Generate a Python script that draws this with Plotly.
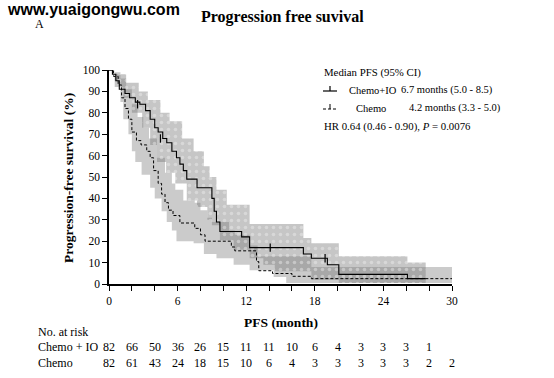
import plotly.graph_objects as go

# ---------------- data ----------------
# Kaplan-Meier curves (time in months, progression-free %)
io_time = [0, 0.3, 0.6, 0.9, 1.4, 1.8, 2.3, 2.7, 3.2, 3.6, 4.0, 4.3, 4.7, 5.05, 5.5, 5.9, 6.2, 6.5, 6.8, 7.7,
           9.0, 9.2, 9.4, 9.7, 11.6, 12.3, 17.0, 17.7, 19.1, 20.1, 26.1, 27.7]
io_surv = [100, 98, 95, 91, 89, 87, 85, 84, 81, 77, 73, 71, 68, 66, 62, 59, 56, 53, 49, 45,
           40, 34, 29, 24.5, 22, 17, 14, 12, 9, 4.5, 2.5, 2.5]

ch_time = [0, 0.4, 0.8, 1.1, 1.4, 1.7, 2.0, 2.4, 2.8, 3.3, 3.6, 3.9, 4.3, 4.6, 4.9, 5.2, 5.6, 6.2, 7.5, 8.0,
           8.4, 10.7, 11.0, 12.9, 13.1, 14.3, 16.0, 17.7, 30]
ch_surv = [100, 97, 93, 87, 82, 77, 71, 67, 65, 62, 59, 53, 47, 42, 38, 34.5, 32, 28.5, 26, 23,
           20, 17.3, 15.5, 10.5, 6.2, 4.9, 3.6, 2.5, 2.5]

# 95% confidence bands
io_up_t = [0, 0.5, 1.5, 2.6, 3.4, 4.5, 5.3, 6.4, 7.4, 8.3, 8.8, 9.4, 10.3, 12.3, 17.0, 17.7, 20.1, 26.1, 27.7]
io_up = [100, 98, 94, 90, 86, 80, 76, 68, 62, 55, 50, 44, 37, 28, 21.5, 19, 13, 10, 10]
io_lo_t = [0, 0.5, 1.25, 2.0, 2.9, 3.6, 4.2, 5.0, 5.8, 6.8, 7.7, 8.6, 9.0, 9.7, 10.9, 12.3, 13.5, 14.5, 17.7, 20.1, 27.7]
io_lo = [100, 92, 87, 80, 73, 65, 57, 52, 47, 39, 36, 30, 27.5, 20.5, 16, 12, 9, 6, 2, 0.5, 0.5]

ch_up_t = [0, 0.5, 1.0, 1.5, 2.0, 2.5, 3.0, 3.5, 4.2, 4.9, 5.5, 5.8, 6.5, 7.5, 8.0, 8.6, 9.0, 10.5, 11.0, 12.3, 13.0, 17.7, 30]
ch_up = [100, 99, 96, 91, 84, 78, 73, 68, 59, 52, 47, 44, 39, 38, 34.5, 31, 29, 25, 23, 18, 13, 8, 8]
ch_lo_t = [0, 0.5, 1.0, 1.25, 1.7, 2.0, 2.3, 2.85, 3.6, 4.0, 4.6, 5.05, 5.5, 5.9, 7.4, 8.3, 9.4, 10.9, 12.3, 14.4, 15.5, 30]
ch_lo = [100, 95, 85, 77, 70, 62, 57, 51, 45, 40, 34, 29, 25, 20, 19, 14, 12, 9, 6.4, 3.3, 0.5, 0.5]

# censor marks
io_cens_t = [2.5, 4.5, 14.1, 18.9]
io_cens_s = [84, 68, 17, 12]

# number at risk
risk_times = [0, 2, 4, 6, 8, 10, 12, 14, 16, 18, 20, 22, 24, 26, 28, 30]
risk_io = [82, 66, 50, 36, 26, 15, 11, 11, 10, 6, 4, 3, 3, 3, 1]
risk_ch = [82, 61, 43, 24, 18, 15, 10, 6, 4, 3, 3, 3, 3, 3, 2, 2]

x_ticks = list(range(0, 31, 2))
x_labels = [str(v) if v % 6 == 0 else "" for v in x_ticks]
y_ticks = list(range(0, 101, 10))

SERIF = "Liberation Serif"


def steps(t, v):
    xs, ys = [t[0]], [v[0]]
    for i in range(1, len(t)):
        xs += [t[i], t[i]]
        ys += [v[i - 1], v[i]]
    return xs, ys


def band(ut, uv, lt, lv):
    ux, uy = steps(ut, uv)
    lx, ly = steps(lt, lv)
    return ux + lx[::-1], uy + ly[::-1]


fig = go.Figure()

bx, by = band(ch_up_t, ch_up, ch_lo_t, ch_lo)
fig.add_trace(go.Scatter(x=bx, y=by, fill="toself", mode="lines", line=dict(width=0),
                         fillcolor="rgba(140,140,140,0.45)", hoverinfo="skip", showlegend=False))

bx, by = band(io_up_t, io_up, io_lo_t, io_lo)
fig.add_trace(go.Scatter(x=bx, y=by, fill="toself", mode="lines", line=dict(width=0),
                         fillpattern=dict(shape=".", bgcolor="rgba(120,120,120,0.42)",
                                          fgcolor="rgba(240,240,240,0.9)", size=7, solidity=0.2),
                         hoverinfo="skip", showlegend=False))

fig.add_trace(go.Scatter(x=ch_time, y=ch_surv, mode="lines", line=dict(color="black", width=1, dash="3px,2px", shape="hv"),
                         showlegend=False, cliponaxis=False, hoverinfo="skip"))
fig.add_trace(go.Scatter(x=io_time, y=io_surv, mode="lines", line=dict(color="black", width=1.1, shape="hv"),
                         showlegend=False, cliponaxis=False, hoverinfo="skip"))
fig.add_trace(go.Scatter(x=io_cens_t, y=io_cens_s, mode="markers",
                         marker=dict(symbol="line-ns", size=6, line=dict(color="black", width=1.2)),
                         showlegend=False, hoverinfo="skip"))

fig.update_xaxes(range=[0, 30], tickvals=x_ticks, ticktext=x_labels, ticks="outside", ticklen=5, tickwidth=1.3,
                 tickcolor="black", showline=True, linecolor="black", linewidth=1.5, showgrid=False, zeroline=False,
                 tickfont=dict(family=SERIF, size=11.5, color="black"))
fig.update_yaxes(range=[0, 100], tickvals=y_ticks, ticks="outside", ticklen=5, tickwidth=1.3,
                 tickcolor="black", showline=True, linecolor="black", linewidth=1.5, showgrid=False, zeroline=False,
                 tickfont=dict(family=SERIF, size=11.5, color="black"))

L, R, T, B = 109, 102, 70, 94
PW, PH = 554 - L - R, 378 - T - B


def px(x):
    return (x - L) / PW


def py(y):
    return (378 - B - y) / PH


ann = []


def text(x, y, s, size=11, xanchor="left", font=SERIF, xref="paper", angle=0):
    ann.append(dict(x=x, y=y, xref=xref, yref="paper", text=s, showarrow=False, xanchor=xanchor,
                    yanchor="middle", textangle=angle, font=dict(family=font, size=size, color="black")))


text(px(5), py(10), "<b>www.yuaigongwu.com</b>", size=16, font="Liberation Sans")
text(px(33), py(24), "A", size=12)
text(px(282), py(17), "<b>Progression free suvival</b>", size=16, xanchor="center")
text(px(68), py(178), "<b>Progression-free survival (%)</b>", size=13.5, xanchor="center", angle=-90)
text(px(281), py(322), "<b>PFS (month)</b>", size=13.5, xanchor="center")

# legend block
text(px(322), py(73), "Median PFS (95% CI)", size=10.8)
text(px(347), py(90), "Chemo+IO", size=10.5)
text(px(399), py(90), "6.7 months (5.0 - 8.5)", size=10.5)
text(px(354), py(108), "Chemo", size=10.5)
text(px(407), py(108), "4.2 months (3.3 - 5.0)", size=10.5)
text(px(322), py(126), "HR 0.64 (0.46 - 0.90), <i>P</i> = 0.0076", size=10.8)

shapes = [
    dict(type="line", xref="paper", yref="paper", x0=px(323), x1=px(337), y0=py(91), y1=py(91),
         line=dict(color="black", width=1.2)),
    dict(type="line", xref="paper", yref="paper", x0=px(330), x1=px(330), y0=py(91), y1=py(86),
         line=dict(color="black", width=1.2)),
    dict(type="line", xref="paper", yref="paper", x0=px(323), x1=px(337), y0=py(109), y1=py(109),
         line=dict(color="black", width=1, dash="3px,2px")),
    dict(type="line", xref="paper", yref="paper", x0=px(330), x1=px(330), y0=py(109), y1=py(104),
         line=dict(color="black", width=1)),
]

# risk table
text(px(36), py(332), "No. at risk", size=12)
text(px(36), py(347), "Chemo + IO", size=12)
text(px(36), py(363), "Chemo", size=12)
for t, n in zip(risk_times, risk_io):
    text(t, py(347), str(n), size=12, xanchor="center", xref="x")
for t, n in zip(risk_times, risk_ch):
    text(t, py(363), str(n), size=12, xanchor="center", xref="x")

fig.update_layout(width=554, height=378, margin=dict(l=L, r=R, t=T, b=B, pad=0),
                  paper_bgcolor="white", plot_bgcolor="white", annotations=ann, shapes=shapes,
                  showlegend=False, hovermode=False)

fig.write_html("out.html", config={"displayModeBar": False},
               post_script="document.body.style.margin='0';document.body.style.overflow='hidden';")
